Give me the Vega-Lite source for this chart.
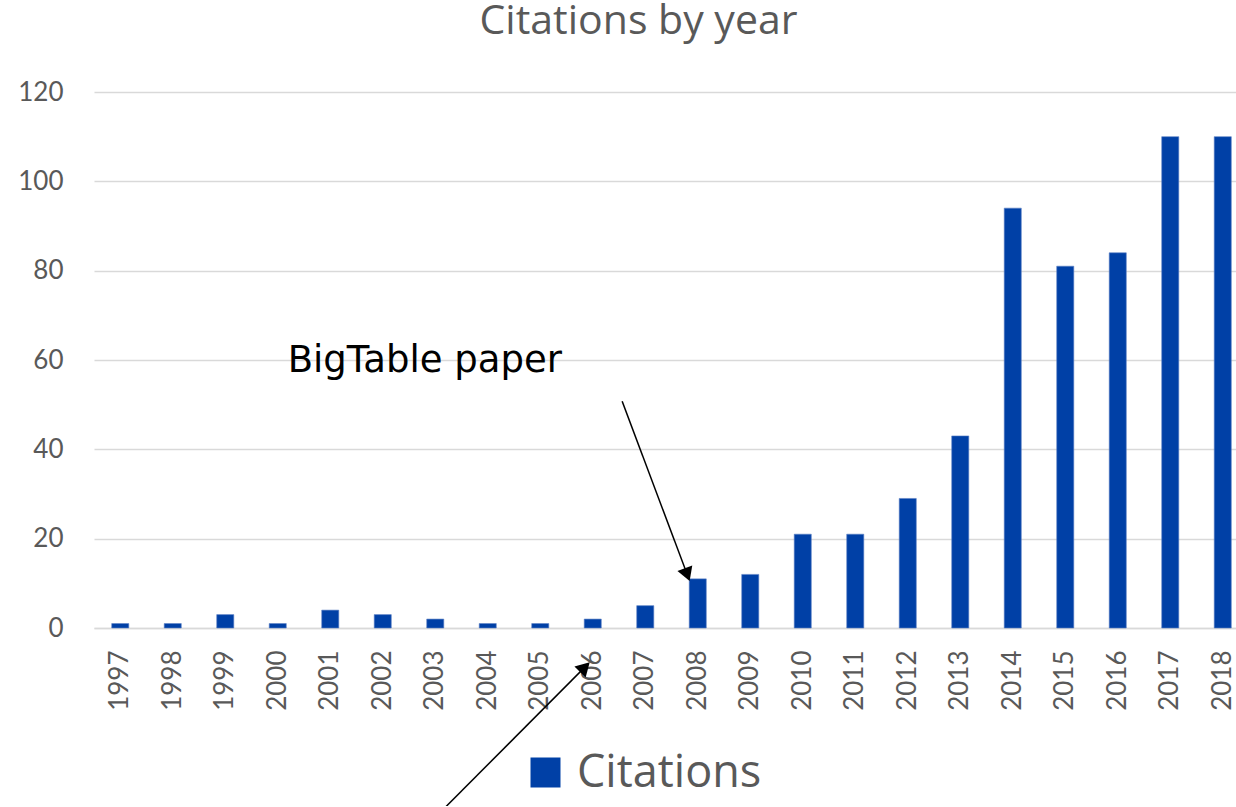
{
  "$schema": "https://vega.github.io/schema/vega-lite/v6.json",
  "width": 1155,
  "height": 536,
  "autosize": "none",
  "padding": {"left": 94, "top": 92, "right": 0, "bottom": 178},
  "background": "white",
  "config": {"view": {"stroke": null}, "font": "Lato"},
  "title": {
    "text": "Citations by year",
    "font": "Open Sans",
    "fontSize": 41,
    "fontWeight": "normal",
    "color": "#595959",
    "anchor": "middle",
    "frame": "group",
    "baseline": "alphabetic",
    "offset": 4,
    "dx": -33
  },
  "resolve": {"scale": {"x": "independent"}},
  "layer": [
    {
      "data": {
        "values": [
          {"year": "1997", "citations": 1, "series": "Citations"},
          {"year": "1998", "citations": 1, "series": "Citations"},
          {"year": "1999", "citations": 3, "series": "Citations"},
          {"year": "2000", "citations": 1, "series": "Citations"},
          {"year": "2001", "citations": 4, "series": "Citations"},
          {"year": "2002", "citations": 3, "series": "Citations"},
          {"year": "2003", "citations": 2, "series": "Citations"},
          {"year": "2004", "citations": 1, "series": "Citations"},
          {"year": "2005", "citations": 1, "series": "Citations"},
          {"year": "2006", "citations": 2, "series": "Citations"},
          {"year": "2007", "citations": 5, "series": "Citations"},
          {"year": "2008", "citations": 11, "series": "Citations"},
          {"year": "2009", "citations": 12, "series": "Citations"},
          {"year": "2010", "citations": 21, "series": "Citations"},
          {"year": "2011", "citations": 21, "series": "Citations"},
          {"year": "2012", "citations": 29, "series": "Citations"},
          {"year": "2013", "citations": 43, "series": "Citations"},
          {"year": "2014", "citations": 94, "series": "Citations"},
          {"year": "2015", "citations": 81, "series": "Citations"},
          {"year": "2016", "citations": 84, "series": "Citations"},
          {"year": "2017", "citations": 110, "series": "Citations"},
          {"year": "2018", "citations": 110, "series": "Citations"}
        ]
      },
      "mark": {"type": "bar", "stroke": "#5a7fc4", "strokeWidth": 0.6},
      "encoding": {
        "x": {
          "field": "year",
          "type": "ordinal",
          "scale": {"paddingInner": 0.675, "paddingOuter": 0.3375},
          "axis": {
            "title": null,
            "labelAngle": -90,
            "labelFont": "Lato",
            "labelFontSize": 26,
            "labelColor": "#595959",
            "labelPadding": 22,
            "ticks": false,
            "domainColor": "#d9d9d9",
            "domainWidth": 1.5,
            "grid": false
          }
        },
        "y": {
          "field": "citations",
          "type": "quantitative",
          "scale": {"domain": [0, 120], "nice": false},
          "axis": {
            "title": null,
            "values": [0, 20, 40, 60, 80, 100, 120],
            "labelFont": "Lato",
            "labelFontSize": 26,
            "labelColor": "#595959",
            "labelPadding": 31,
            "ticks": false,
            "domain": false,
            "grid": true,
            "gridColor": "#d9d9d9",
            "gridWidth": 1.3
          }
        },
        "color": {
          "field": "series",
          "type": "nominal",
          "scale": {"range": ["#0040a6"]},
          "legend": {
            "title": null,
            "orient": "none",
            "legendX": 429,
            "legendY": 658,
            "symbolType": "square",
            "symbolSize": 900,
            "symbolStrokeWidth": 0,
            "labelFont": "Open Sans",
            "labelFontSize": 45,
            "labelColor": "#595959",
            "labelOffset": 9,
            "labelLimit": 0,
            "padding": 0
          }
        }
      }
    },
    {
      "data": {
        "values": [
          {"x": 2006.56, "y": 50.75, "x2": 2007.8, "y2": 11.96},
          {"x": 2002.78, "y": -45.0, "x2": 2005.85, "y2": -8.76}
        ]
      },
      "mark": {"type": "rule", "color": "black", "strokeWidth": 1.5},
      "encoding": {
        "x": {"field": "x", "type": "quantitative", "scale": {"domain": [1996.5, 2018.5], "nice": false, "zero": false}, "axis": null},
        "x2": {"field": "x2"},
        "y": {"field": "y", "type": "quantitative", "scale": {"domain": [0, 120], "nice": false}},
        "y2": {"field": "y2"}
      }
    },
    {
      "data": {"values": [{"x": 2007.8, "y": 11.96}]},
      "mark": {"type": "point", "shape": "triangle-up", "filled": true, "color": "black", "opacity": 1, "size": 250, "angle": 159.5},
      "encoding": {
        "x": {"field": "x", "type": "quantitative", "scale": {"domain": [1996.5, 2018.5], "nice": false, "zero": false}, "axis": null},
        "y": {"field": "y", "type": "quantitative", "scale": {"domain": [0, 120], "nice": false}}
      }
    },
    {
      "data": {"values": [{"x": 2005.85, "y": -8.76}]},
      "mark": {"type": "point", "shape": "triangle-up", "filled": true, "color": "black", "opacity": 1, "size": 250, "angle": 44.9},
      "encoding": {
        "x": {"field": "x", "type": "quantitative", "scale": {"domain": [1996.5, 2018.5], "nice": false, "zero": false}, "axis": null},
        "y": {"field": "y", "type": "quantitative", "scale": {"domain": [0, 120], "nice": false}}
      }
    },
    {
      "data": {"values": [{"x": 2002.8, "y": 59.8, "label": "BigTable paper"}]},
      "mark": {"type": "text", "font": "DejaVu Sans", "fontSize": 37, "color": "black", "align": "center", "baseline": "middle"},
      "encoding": {
        "x": {"field": "x", "type": "quantitative", "scale": {"domain": [1996.5, 2018.5], "nice": false, "zero": false}, "axis": null},
        "y": {"field": "y", "type": "quantitative", "scale": {"domain": [0, 120], "nice": false}},
        "text": {"field": "label"}
      }
    }
  ]
}
